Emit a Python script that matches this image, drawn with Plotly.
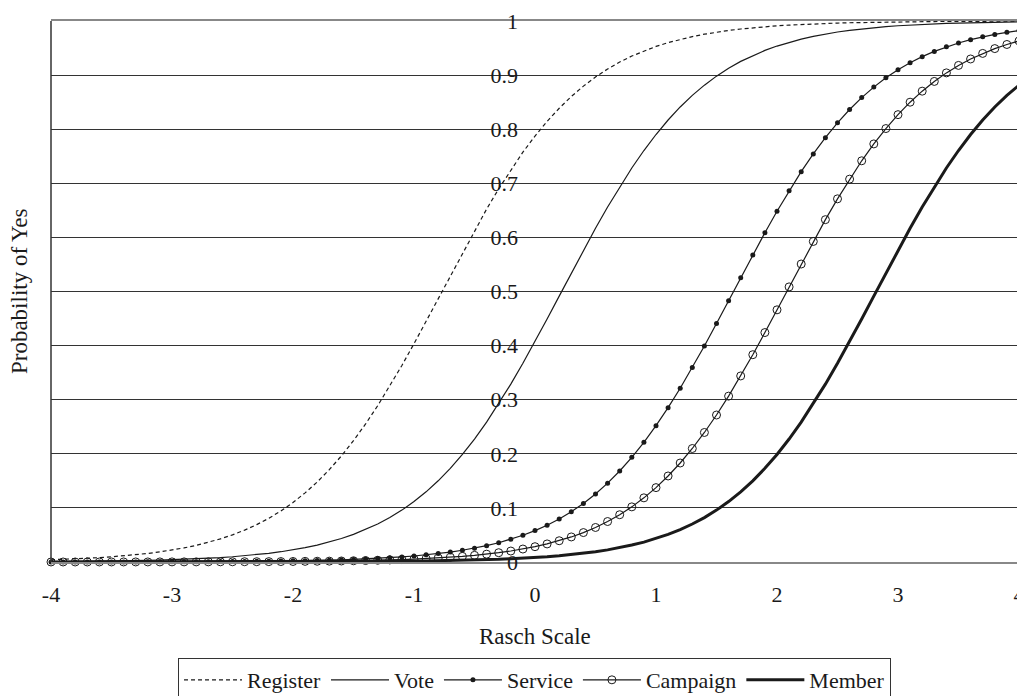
import plotly.graph_objects as go

# Rasch scale grid (x) and probability of "Yes" for each item
rasch = [
    -4.0, -3.9, -3.8, -3.7, -3.6, -3.5, -3.4, -3.3, -3.2, -3.1,
    -3.0, -2.9, -2.8, -2.7, -2.6, -2.5, -2.4, -2.3, -2.2, -2.1,
    -2.0, -1.9, -1.8, -1.7, -1.6, -1.5, -1.4, -1.3, -1.2, -1.1,
    -1.0, -0.9, -0.8, -0.7, -0.6, -0.5, -0.4, -0.3, -0.2, -0.1,
    0.0, 0.1, 0.2, 0.3, 0.4, 0.5, 0.6, 0.7, 0.8, 0.9,
    1.0, 1.1, 1.2, 1.3, 1.4, 1.5, 1.6, 1.7, 1.8, 1.9,
    2.0, 2.1, 2.2, 2.3, 2.4, 2.5, 2.6, 2.7, 2.8, 2.9,
    3.0, 3.1, 3.2, 3.3, 3.4, 3.5, 3.6, 3.7, 3.8, 3.9,
    4.0,
]

register = [
    0.0041, 0.0049, 0.0058, 0.0068, 0.0081, 0.0096, 0.0113, 0.0134, 0.0158, 0.0187,
    0.0221, 0.0261, 0.0307, 0.0362, 0.0427, 0.0502, 0.0589, 0.0691, 0.0808, 0.0944,
    0.1100, 0.1278, 0.1479, 0.1707, 0.1961, 0.2243, 0.2552, 0.2889, 0.3250, 0.3633,
    0.4035, 0.4450, 0.4873, 0.5297, 0.5718, 0.6128, 0.6523, 0.6898, 0.7249, 0.7575,
    0.7873, 0.8144, 0.8387, 0.8604, 0.8796, 0.8965, 0.9112, 0.9241, 0.9352, 0.9447,
    0.9530, 0.9600, 0.9661, 0.9712, 0.9756, 0.9793, 0.9825, 0.9852, 0.9875, 0.9894,
    0.9911, 0.9924, 0.9936, 0.9946, 0.9955, 0.9962, 0.9968, 0.9973, 0.9977, 0.9981,
    0.9984, 0.9986, 0.9988, 0.9990, 0.9992, 0.9993, 0.9994, 0.9995, 0.9996, 0.9996,
    0.9997,
]

vote = [
    0.0008, 0.0009, 0.0011, 0.0013, 0.0015, 0.0018, 0.0021, 0.0025, 0.0030, 0.0035,
    0.0042, 0.0049, 0.0059, 0.0069, 0.0082, 0.0097, 0.0115, 0.0136, 0.0161, 0.0190,
    0.0224, 0.0265, 0.0312, 0.0368, 0.0434, 0.0510, 0.0599, 0.0702, 0.0821, 0.0959,
    0.1117, 0.1297, 0.1501, 0.1731, 0.1988, 0.2273, 0.2585, 0.2924, 0.3288, 0.3673,
    0.4076, 0.4492, 0.4915, 0.5340, 0.5759, 0.6168, 0.6561, 0.6934, 0.7283, 0.7606,
    0.7902, 0.8170, 0.8411, 0.8625, 0.8814, 0.8981, 0.9126, 0.9253, 0.9362, 0.9456,
    0.9537, 0.9607, 0.9666, 0.9717, 0.9760, 0.9797, 0.9828, 0.9855, 0.9877, 0.9896,
    0.9912, 0.9926, 0.9937, 0.9947, 0.9955, 0.9962, 0.9968, 0.9973, 0.9977, 0.9981,
    0.9984,
]

service = [
    0.00007, 0.00008, 0.00010, 0.00011, 0.00014, 0.00016, 0.00019, 0.00023, 0.00027, 0.00032,
    0.00038, 0.00044, 0.00053, 0.00062, 0.00074, 0.00088, 0.0010, 0.0012, 0.0015, 0.0017,
    0.0021, 0.0024, 0.0029, 0.0034, 0.0040, 0.0048, 0.0057, 0.0067, 0.0079, 0.0094,
    0.0111, 0.0132, 0.0155, 0.0184, 0.0217, 0.0256, 0.0302, 0.0356, 0.0420, 0.0494,
    0.0580, 0.0680, 0.0796, 0.0930, 0.1083, 0.1258, 0.1457, 0.1682, 0.1934, 0.2213,
    0.2520, 0.2853, 0.3212, 0.3593, 0.3993, 0.4407, 0.4829, 0.5254, 0.5675, 0.6087,
    0.6483, 0.6861, 0.7215, 0.7543, 0.7844, 0.8118, 0.8364, 0.8584, 0.8778, 0.8949,
    0.9098, 0.9228, 0.9341, 0.9438, 0.9522, 0.9594, 0.9655, 0.9707, 0.9752, 0.9790,
    0.9822,
]

campaign = [
    0.00003, 0.00004, 0.00005, 0.00005, 0.00006, 0.00008, 0.00009, 0.00011, 0.00013, 0.00015,
    0.00018, 0.00021, 0.00025, 0.00030, 0.00035, 0.00042, 0.00049, 0.00058, 0.00069, 0.00082,
    0.00097, 0.0012, 0.0014, 0.0016, 0.0019, 0.0023, 0.0027, 0.0032, 0.0038, 0.0045,
    0.0053, 0.0063, 0.0074, 0.0088, 0.0104, 0.0123, 0.0145, 0.0172, 0.0203, 0.0240,
    0.0283, 0.0334, 0.0393, 0.0463, 0.0544, 0.0638, 0.0748, 0.0874, 0.1019, 0.1186,
    0.1375, 0.1590, 0.1830, 0.2098, 0.2394, 0.2717, 0.3066, 0.3439, 0.3832, 0.4241,
    0.4661, 0.5085, 0.5508, 0.5925, 0.6328, 0.6713, 0.7077, 0.7416, 0.7728, 0.8012,
    0.8269, 0.8499, 0.8703, 0.8883, 0.9041, 0.9179, 0.9298, 0.9401, 0.9490, 0.9566,
    0.9632,
]

member = [
    0.00001, 0.00001, 0.00001, 0.00002, 0.00002, 0.00002, 0.00003, 0.00003, 0.00004, 0.00004,
    0.00005, 0.00006, 0.00007, 0.00008, 0.00010, 0.00012, 0.00014, 0.00017, 0.00020, 0.00023,
    0.00028, 0.00033, 0.00039, 0.00046, 0.00055, 0.00065, 0.00077, 0.00091, 0.0011, 0.0013,
    0.0015, 0.0018, 0.0021, 0.0025, 0.0030, 0.0035, 0.0042, 0.0049, 0.0059, 0.0069,
    0.0082, 0.0097, 0.0115, 0.0136, 0.0161, 0.0190, 0.0224, 0.0265, 0.0313, 0.0368,
    0.0434, 0.0510, 0.0599, 0.0702, 0.0821, 0.0959, 0.1117, 0.1297, 0.1501, 0.1731,
    0.1988, 0.2273, 0.2585, 0.2924, 0.3287, 0.3673, 0.4076, 0.4492, 0.4915, 0.5340,
    0.5759, 0.6168, 0.6561, 0.6934, 0.7283, 0.7606, 0.7902, 0.8170, 0.8410, 0.8625,
    0.8814,
]

x_ticks = [-4, -3, -2, -1, 0, 1, 2, 3, 4]
y_ticks = [0, 0.1, 0.2, 0.3, 0.4, 0.5, 0.6, 0.7, 0.8, 0.9, 1]

INK = "#1a1a1a"
FONT = "Liberation Serif"

fig = go.Figure()
fig.add_trace(go.Scatter(x=rasch, y=register, name="Register", mode="lines",
                         line=dict(color=INK, width=1.2, dash="4px,3px"), cliponaxis=False))
fig.add_trace(go.Scatter(x=rasch, y=vote, name="Vote", mode="lines",
                         line=dict(color=INK, width=1.2), cliponaxis=False))
fig.add_trace(go.Scatter(x=rasch, y=service, name="Service", mode="lines+markers",
                         line=dict(color=INK, width=1.2),
                         marker=dict(symbol="circle", size=5, color=INK), cliponaxis=False))
fig.add_trace(go.Scatter(x=rasch, y=campaign, name="Campaign", mode="lines+markers",
                         line=dict(color=INK, width=1.2),
                         marker=dict(symbol="circle-open", size=8, color=INK,
                                     line=dict(width=1)), cliponaxis=False))
fig.add_trace(go.Scatter(x=rasch, y=member, name="Member", mode="lines",
                         line=dict(color=INK, width=3), cliponaxis=False))

# plot frame: dark sides, grey top/bottom
fig.add_shape(type="line", xref="paper", yref="paper", x0=0, x1=0, y0=0, y1=1,
              line=dict(color="#333333", width=1.5))
fig.add_shape(type="line", xref="paper", yref="paper", x0=1, x1=1, y0=0, y1=1,
              line=dict(color="#333333", width=1.5))

fig.add_annotation(text="Rasch Scale", xref="paper", yref="paper",
                   x=0.5, y=-0.138, xanchor="center", yanchor="middle",
                   showarrow=False, font=dict(family=FONT, size=23, color=INK))
fig.add_annotation(text="Probability of Yes", xref="paper", yref="paper",
                   x=-0.0325, y=0.5, xanchor="center", yanchor="middle", textangle=-90,
                   showarrow=False, font=dict(family=FONT, size=23, color=INK))

# page body adds an 8px offset, so the figure is shrunk and its margins shifted
fig.update_layout(
    width=1017, height=688,
    margin=dict(l=43, r=6, t=13, b=134, autoexpand=False),
    paper_bgcolor="white", plot_bgcolor="white",
    font=dict(family=FONT, size=22, color=INK),
    showlegend=True,
    legend=dict(orientation="h", x=0.4995, xanchor="center", y=-0.1775, yanchor="top",
                bordercolor="#333333", borderwidth=1, font=dict(family=FONT, size=22, color=INK),
                itemwidth=58, tracegroupgap=0, bgcolor="white"),
    xaxis=dict(range=[-4, 4], tickvals=x_ticks, ticktext=[str(v) for v in x_ticks],
               showgrid=False, zeroline=False, showline=True, linecolor="#888888",
               linewidth=1.5, mirror=True, ticks="", ticklabelstandoff=12,
               ticklabeloverflow="allow",
               tickfont=dict(family=FONT, size=22, color=INK)),
    yaxis=dict(range=[0, 1], tickvals=y_ticks, ticktext=[f"{v:g}" for v in y_ticks],
               anchor="free", position=0.5, showline=False, zeroline=False,
               showgrid=True, gridcolor="#333333", gridwidth=1, ticks="",
               ticklabelstandoff=17, ticklabeloverflow="allow",
               tickfont=dict(family=FONT, size=22, color=INK)),
)

fig.write_html("out.html")
